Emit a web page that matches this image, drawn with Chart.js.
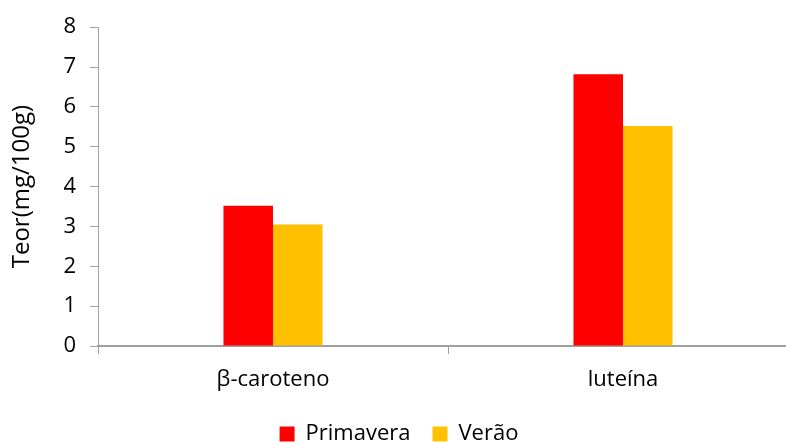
<!DOCTYPE html>
<html>
<head>
<meta charset="utf-8">
<script src="https://cdn.jsdelivr.net/npm/chart.js@4.4.1/dist/chart.umd.min.js"></script>
<style>
  html, body { margin: 0; padding: 0; background: #fff; overflow: hidden; }
  #wrap { position: relative; width: 800px; height: 455px; }
</style>
</head>
<body>
<div id="wrap"><canvas id="chart" width="800" height="455"></canvas></div>
<script>
// Carotenoid content by season
const categories = ['β-caroteno', 'luteína'];
const primavera = [3.52, 6.82];
const verao = [3.05, 5.52];
const yTicks = [0, 1, 2, 3, 4, 5, 6, 7, 8];

const FONT = '"Open Sans", "Liberation Sans", sans-serif';
const AXIS = '#a0a0a0';

new Chart(document.getElementById('chart'), {
  type: 'bar',
  data: {
    labels: categories,
    datasets: [
      { label: 'Primavera', data: primavera, backgroundColor: '#FF0000', borderWidth: 0 },
      { label: 'Verão', data: verao, backgroundColor: '#FFC000', borderWidth: 0 }
    ]
  },
  options: {
    responsive: false,
    animation: false,
    devicePixelRatio: 1,
    layout: { padding: { top: 25, right: 2, left: 0, bottom: 0 } },
    datasets: { bar: { categoryPercentage: 0.283, barPercentage: 1.0 } },
    plugins: {
      tooltip: { enabled: false },
      legend: {
        position: 'bottom',
        labels: {
          color: '#000',
          font: { family: FONT, size: 22 },
          boxWidth: 15,
          boxHeight: 15,
          padding: 22
        }
      }
    },
    scales: {
      x: {
        grid: { display: true, drawOnChartArea: false, drawTicks: true, tickLength: 8, color: AXIS, offset: true },
        border: { color: AXIS, width: 2 },
        ticks: { color: '#000', font: { family: FONT, size: 22 }, padding: 13 },
        afterFit: s => { s.height = 55; }
      },
      y: {
        min: 0, max: 8,
        afterBuildTicks: s => { s.ticks = yTicks.map(v => ({ value: v })); },
        grid: { display: true, drawOnChartArea: false, drawTicks: true, tickLength: 8, color: AXIS },
        border: { color: AXIS, width: 1 },
        ticks: { color: '#000', font: { family: FONT, size: 22 }, padding: 14 },
        title: { display: true, text: 'Teor(mg/100g)', color: '#000', font: { family: FONT, size: 24 }, padding: { top: 8, bottom: 0 } },
        afterFit: s => { s.width = 98; }
      }
    }
  }
});
</script>
</body>
</html>
